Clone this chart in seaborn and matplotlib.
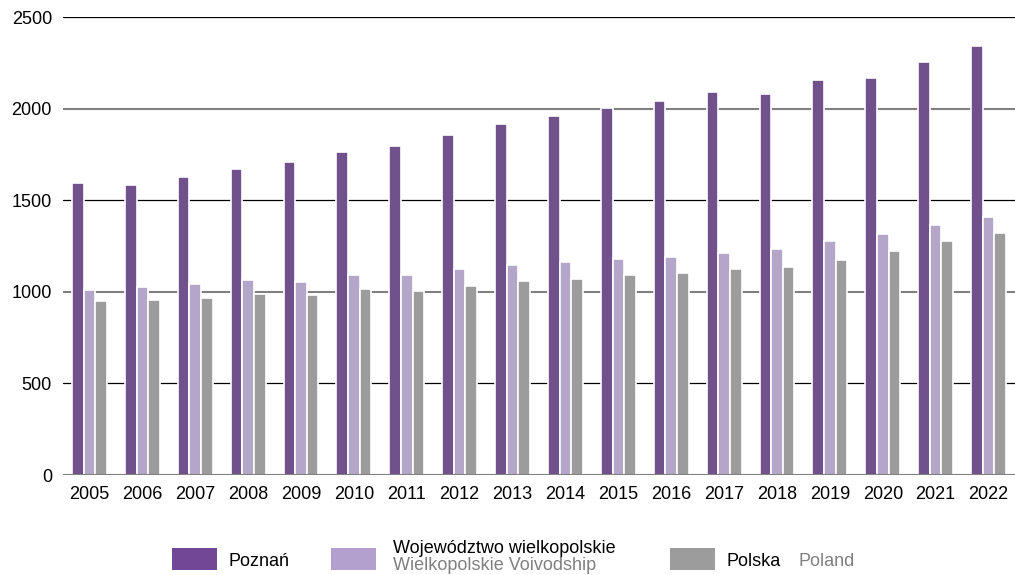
import matplotlib
matplotlib.use("Agg")
import matplotlib.pyplot as plt
import seaborn as sns
import pandas as pd
from matplotlib.patches import Rectangle

years = [str(y) for y in range(2005, 2023)]
poznan = [1595, 1585, 1629, 1669, 1711, 1762, 1795, 1858, 1915, 1962, 2005, 2044, 2089, 2078, 2155, 2165, 2255, 2344]
wielkopolskie = [1011, 1024, 1040, 1064, 1055, 1089, 1091, 1122, 1147, 1164, 1180, 1189, 1211, 1231, 1276, 1315, 1364, 1407]
polska = [949, 955, 967, 986, 984, 1016, 1004, 1033, 1058, 1071, 1089, 1104, 1122, 1136, 1175, 1224, 1276, 1322]
series_names = ["Poznań", "Województwo wielkopolskie", "Polska"]
colors = ["#714796", "#B3A0CE", "#9C9C9C"]
yticks = [0, 500, 1000, 1500, 2000, 2500]

rows = []
for name, vals in zip(series_names, [poznan, wielkopolskie, polska]):
    for yr, v in zip(years, vals):
        rows.append({"year": yr, "series": name, "value": v})
df = pd.DataFrame(rows)

sns.set_style("white")
plt.rcParams['font.family'] = ['Liberation Sans', 'DejaVu Sans']

W, H = 1015, 575
fig = plt.figure(figsize=(W / 100, H / 100), dpi=100)
ax = fig.add_axes([63 / W, (H - 475) / H, (W - 63) / W, 458 / H])

line_colors = {0: "#808080", 500: "#000000", 1000: "#808080", 1500: "#000000", 2000: "#808080", 2500: "#000000"}
line_widths = {0: 1.5, 500: 0.9, 1000: 1.5, 1500: 0.9, 2000: 1.5, 2500: 0.9}
for t in yticks:
    ax.axhline(t, color=line_colors[t], lw=line_widths[t], zorder=3 if t == 0 else 0.5)

sns.barplot(data=df, x="year", y="value", hue="series", hue_order=series_names,
            palette=colors, width=0.66, edgecolor="white", linewidth=1.2,
            legend=False, ax=ax, zorder=2)

ax.set_xlim(-0.5, len(years) - 0.5)
ax.set_ylim(0, 2500)
ax.set_yticks(yticks)
ax.set_yticklabels([str(t) for t in yticks])
ax.set_xlabel("")
ax.set_ylabel("")
for s in ax.spines.values():
    s.set_visible(False)
ax.tick_params(axis="both", length=0, labelsize=13, colors="black")
ax.tick_params(axis="y", pad=8)
ax.tick_params(axis="x", pad=8)

def fx(x):
    return x / W

def fy(y):
    return 1 - y / H

# legend (manual, in figure pixel positions)
patches = [(172, "#714796"), (331, "#B3A0CE"), (670, "#9C9C9C")]
for x0, c in patches:
    fig.add_artist(Rectangle((fx(x0), fy(570)), 45 / W, 22 / H, transform=fig.transFigure,
                             facecolor=c, edgecolor="none"))
fig.text(fx(228), fy(566), "Poznań", fontsize=13, color="black", va="baseline", ha="left")
fig.text(fx(393), fy(553), "Województwo wielkopolskie", fontsize=13, color="black", va="baseline", ha="left")
fig.text(fx(393), fy(570), "Wielkopolskie Voivodship", fontsize=13, color="#808080", va="baseline", ha="left")
fig.text(fx(727), fy(566), "Polska", fontsize=13, color="black", va="baseline", ha="left")
fig.text(fx(798), fy(566), "Poland", fontsize=13, color="#808080", va="baseline", ha="left")

fig.savefig("out.png", dpi=100)
